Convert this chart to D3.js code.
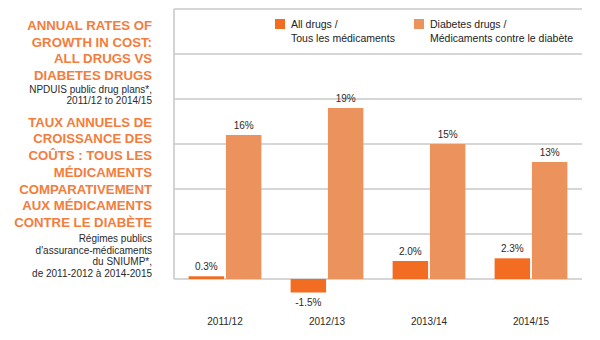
<!DOCTYPE html>
<html>
<head>
<meta charset="utf-8">
<script src="https://cdn.jsdelivr.net/npm/d3@7"></script>
<style>
  body { margin: 0; background: #fff; }
  svg { font-family: "Liberation Sans", Arial, sans-serif; }
</style>
</head>
<body>
<div class="chart"></div>
<script>
// chart values
const years = ["2011/12", "2012/13", "2013/14", "2014/15"];
const allDrugs = [0.3, -1.5, 2.0, 2.3];
const diabetesDrugs = [16, 19, 15, 13];
const allLabels = ["0.3%", "-1.5%", "2.0%", "2.3%"];
const diabLabels = ["16%", "19%", "15%", "13%"];
const gridTicks = [0, 5, 10, 15, 20, 25, 30];

const titleEn = ["ANNUAL RATES OF", "GROWTH IN COST:", "ALL DRUGS VS", "DIABETES DRUGS"];
const subEn = ["NPDUIS public drug plans*,", "2011/12 to 2014/15"];
const titleFr = ["TAUX ANNUELS DE", "CROISSANCE DES", "COÛTS : TOUS LES", "MÉDICAMENTS",
  "COMPARATIVEMENT", "AUX MÉDICAMENTS", "CONTRE LE DIABÈTE"];
const subFr = ["Régimes publics", "d'assurance-médicaments", "du SNIUMP*,", "de 2011-2012 à 2014-2015"];

const series = [
  { key: "all", name: ["All drugs /", "Tous les médicaments"], values: allDrugs, labels: allLabels, color: "#f26c22" },
  { key: "diab", name: ["Diabetes drugs /", "Médicaments contre le diabète"], values: diabetesDrugs, labels: diabLabels, color: "#ec925c" }
];

const width = 600;
const height = 340;
const orange = "#f47c3c";

const svg = d3.select('.chart')
  .append('svg')
  .attr('width', width)
  .attr('height', height)

// scales
const x0 = d3.scaleBand()
  .domain(years)
  .range([174, 582])
  .paddingInner(0.25)
  .paddingOuter(0.125)

const x1 = d3.scaleBand()
  .domain(series.map(s => s.key))
  .range([0, x0.bandwidth()])
  .padding(0.05)

const y = d3.scaleLinear()
  .domain([-5, 30])
  .range([324, 9])

// gridlines
svg.selectAll("line.grid")
  .data(gridTicks)
  .enter()
  .append("line")
  .attr("class", "grid")
  .attr("x1", 174)
  .attr("x2", 582)
  .attr("y1", d => y(d))
  .attr("y2", d => y(d))
  .attr("stroke", "#c9c9c9")
  .attr("stroke-width", 1.6)

svg.append("line")
  .attr("x1", 174).attr("x2", 174)
  .attr("y1", y(30)).attr("y2", y(0))
  .attr("stroke", "#c9c9c9")
  .attr("stroke-width", 1.6)

// bars
series.forEach(s => {
  svg.selectAll("rect." + s.key)
    .data(s.values)
    .enter()
    .append("rect")
    .attr("class", s.key)
    .attr("x", (d, i) => x0(years[i]) + x1(s.key))
    .attr("y", d => y(Math.max(0, d)))
    .attr("width", x1.bandwidth())
    .attr("height", d => Math.abs(y(d) - y(0)))
    .attr("fill", s.color)

  svg.selectAll("text." + s.key)
    .data(s.values)
    .enter()
    .append("text")
    .attr("class", s.key)
    .attr("x", (d, i) => x0(years[i]) + x1(s.key) + x1.bandwidth() / 2)
    .attr("y", d => d >= 0 ? y(d) - 6 : y(d) + 13)
    .attr("text-anchor", "middle")
    .attr("font-size", 10)
    .attr("fill", "#2a2a2a")
    .text((d, i) => s.labels[i])
})

// category labels
svg.selectAll("text.cat")
  .data(years)
  .enter()
  .append("text")
  .attr("class", "cat")
  .attr("x", d => x0(d) + x0.bandwidth() / 2)
  .attr("y", 325)
  .attr("text-anchor", "middle")
  .attr("font-size", 10)
  .attr("fill", "#2a2a2a")
  .text(d => d)

// legend
const legendX = [275, 414];
series.forEach((s, i) => {
  svg.append("rect")
    .attr("x", legendX[i])
    .attr("y", 19)
    .attr("width", 10)
    .attr("height", 10)
    .attr("fill", s.color)
  s.name.forEach((t, j) => {
    svg.append("text")
      .attr("x", legendX[i] + 16)
      .attr("y", 28 + j * 13.5)
      .attr("font-size", 10.5)
      .attr("fill", "#222")
      .text(t)
  })
})

// titles on the left
function block(lines, startY, step, size, weight, color) {
  svg.selectAll(null)
    .data(lines)
    .enter()
    .append("text")
    .attr("x", 152)
    .attr("y", (d, i) => startY + i * step)
    .attr("text-anchor", "end")
    .attr("font-size", size)
    .attr("font-weight", weight)
    .attr("fill", color)
    .text(d => d)
}

block(titleEn, 30, 16.7, 13.2, "bold", orange)
block(subEn, 92.5, 11.8, 10, "normal", "#2a2a2a")
block(titleFr, 126.7, 16.7, 13.2, "bold", orange)
block(subFr, 242, 11.6, 10, "normal", "#2a2a2a")
</script>
</body>
</html>
